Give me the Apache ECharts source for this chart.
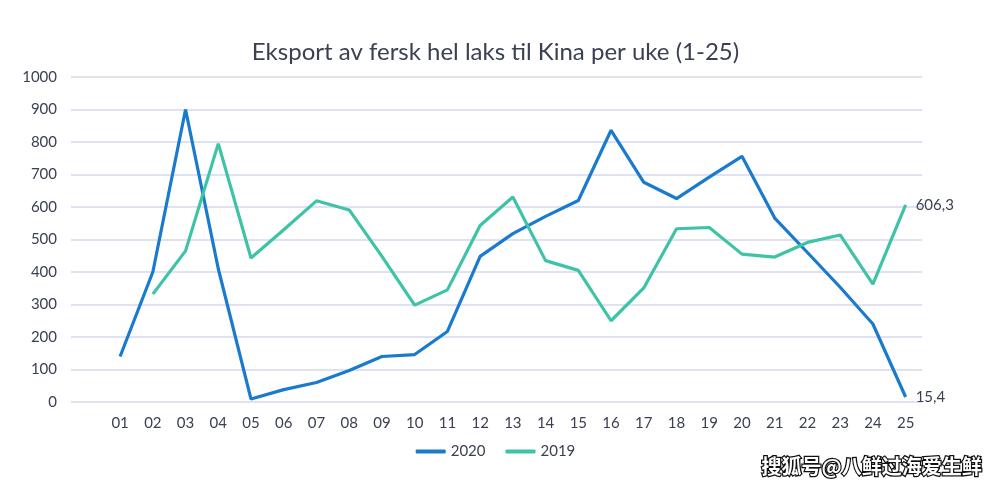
<!DOCTYPE html>
<html><head><meta charset="utf-8">
<script src="https://cdn.jsdelivr.net/npm/echarts@6/dist/echarts.min.js"></script>
<style>html,body{margin:0;padding:0;background:#fff}#c{width:991px;height:489px}</style>
</head><body><div id="c"></div>
<script>
const weeks = ["", "01","02","03","04","05","06","07","08","09","10","11","12","13","14","15","16","17","18","19","20","21","22","23","24","25"];
const y2020 = [null, 140,400,900,410,9,38,60,97,140,146,217,448,518,571,620,836,676,626,692,756,566,460,353,240,15.4];
const y2019 = [null, null,332,465,795,443,530,619,591,448,298,345,543,631,435,405,250,351,533,537,455,446,491,514,363,606.3];
const txt = '#3b4152';
const chart = echarts.init(document.getElementById('c'));
function endLabel(){ return {show:true, distance:10, color:txt, fontSize:15, fontFamily:'Lato',
  formatter:(p)=>String(p.value).replace('.',',')}; }
chart.setOption({
  backgroundColor:'#fff',
  animation:false,
  title:{text:'Eksport av fersk hel laks til Kina per uke (1-25)', left:'center', top:35,
    textStyle:{color:txt, fontSize:24, fontWeight:'normal', fontFamily:'Lato'}},
  grid:{left:71, right:69, top:77, bottom:87},
  legend:{bottom:25, left:'center', itemWidth:30, itemHeight:4, itemGap:20, icon:'roundRect',
    textStyle:{color:txt, fontSize:15, fontFamily:'Lato'}, data:['2020','2019']},
  xAxis:{type:'category', data:weeks, boundaryGap:true,
    axisLine:{show:false}, axisTick:{show:false},
    axisLabel:{color:txt, fontSize:15, fontFamily:'Lato', margin:14, interval:0}},
  yAxis:{type:'value', min:0, max:1000, interval:100,
    axisLabel:{color:txt, fontSize:15, fontFamily:'Lato', margin:14, formatter:(v)=>String(v)},
    splitLine:{lineStyle:{color:'#d6d9f0', width:1.5}}},
  series:[
    {name:'2020', type:'line', data:y2020, symbol:'none', lineStyle:{width:3.2, color:'#1a7acd'}, itemStyle:{color:'#1a7acd'}, endLabel:endLabel()},
    {name:'2019', type:'line', data:y2019, symbol:'none', lineStyle:{width:3.2, color:'#3ec3a6'}, itemStyle:{color:'#3ec3a6'}, endLabel:endLabel()}
  ],
  graphic:[{type:'text', right:8, top:455, style:{text:'搜狐号@八鲜过海爱生鲜', fill:'#fff', stroke:'#111', lineWidth:2.5,
    font:'bold 20px "Noto Sans CJK SC"'}}]
});
</script></body></html>
